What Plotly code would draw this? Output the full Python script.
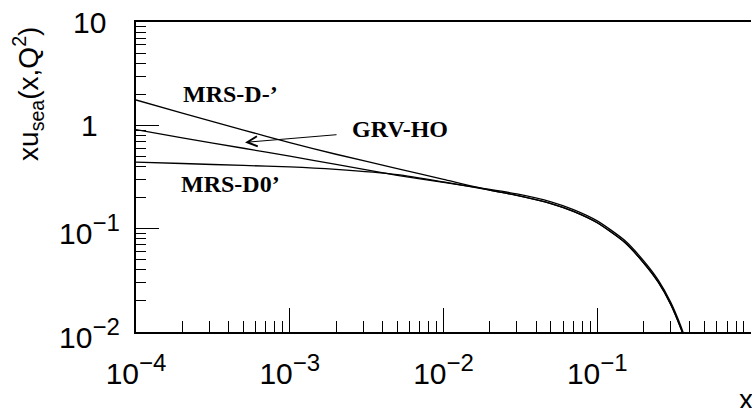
import math
import plotly.graph_objects as go

# x values at which the sea-quark distributions are tabulated
x_vals = [1e-4, 2e-4, 5e-4, 1e-3, 2e-3, 5e-3, 1e-2, 2e-2, 3e-2, 5e-2, 7e-2,
          0.1, 0.15, 0.2, 0.25, 0.3, 0.35, 0.37]

# x * u_sea(x, Q^2) for the three parametrisations
mrs_dminus = [1.76, 1.31, 0.90, 0.68, 0.525, 0.382, 0.300, 0.236, 0.210, 0.175, 0.147,
              0.114, 0.0742, 0.0468, 0.0302, 0.0186, 0.0108, 0.0085]
grv_ho = [0.91, 0.755, 0.60, 0.503, 0.418, 0.328, 0.280, 0.240, 0.217, 0.182, 0.153,
          0.119, 0.0775, 0.0490, 0.0316, 0.0195, 0.0114, 0.0090]
mrs_d0 = [0.44, 0.427, 0.409, 0.396, 0.374, 0.333, 0.283, 0.236, 0.210, 0.175, 0.147,
          0.114, 0.0742, 0.0468, 0.0302, 0.0186, 0.0108, 0.0085]

EXP = '<sup><span style="font-size:24px">{}</span></sup>'
x_tick_vals = [1e-4, 1e-3, 1e-2, 1e-1, 1]
x_tick_text = ["10" + EXP.format("\u22124"), "10" + EXP.format("\u22123"),
               "10" + EXP.format("\u22122"), "10" + EXP.format("\u22121"), "1"]
y_tick_vals = [1e-2, 1e-1, 1, 10]
y_tick_text = ["10" + EXP.format("\u22122"), "10" + EXP.format("\u22121"), "1", "10"]

curve_names = ["MRS-D-\u2019", "GRV-HO", "MRS-D0\u2019"]

SANS = "Liberation Sans, Arial, sans-serif"
SERIF = "Liberation Serif, Times New Roman, serif"

fig = go.Figure()
for name, vals in zip(curve_names, [mrs_dminus, grv_ho, mrs_d0]):
    fig.add_trace(go.Scatter(x=x_vals, y=vals, mode="lines", name=name,
                             line=dict(color="black", width=1.3, shape="spline",
                                       smoothing=0.6)))

minor_x = [m * 10.0 ** e for e in range(-4, 0) for m in range(2, 10)]
minor_y = [m * 10.0 ** e for e in range(-2, 1) for m in range(2, 10)]

fig.update_layout(
    width=752, height=408,
    margin=dict(l=136, r=1, t=22, b=76),
    paper_bgcolor="white", plot_bgcolor="white",
    showlegend=False,
    font=dict(family=SANS, color="black", size=30),
    xaxis=dict(type="log", range=[-4, 0], showgrid=False, zeroline=False,
               showline=True, linecolor="black", linewidth=1.6, mirror=True,
               ticks="inside", ticklen=24, tickwidth=1.2, tickcolor="black",
               tickvals=x_tick_vals, ticktext=x_tick_text,
               tickfont=dict(family=SANS, size=30, color="black"),
               ticklabelstandoff=14,
               minor=dict(ticks="inside", ticklen=11, tickwidth=1.1,
                          tickcolor="black", tickvals=minor_x, showgrid=False),
               automargin=False),
    yaxis=dict(type="log", range=[-2, 1], showgrid=False, zeroline=False,
               showline=True, linecolor="black", linewidth=1.6,
               ticks="inside", ticklen=23, tickwidth=1.2, tickcolor="black",
               tickvals=y_tick_vals, showticklabels=False,
               minor=dict(ticks="inside", ticklen=10, tickwidth=1.1,
                          tickcolor="black", tickvals=minor_y, showgrid=False),
               automargin=False),
)

# y tick labels, centred in the left margin
for v, t in zip(y_tick_vals, y_tick_text):
    fig.add_annotation(x=-0.075, xref="paper", y=math.log10(v), yref="y",
                       text=t, showarrow=False, xanchor="center", yanchor="middle",
                       yshift=(-1 if "sup" in t else 0),
                       font=dict(family=SANS, size=30, color="black"))

# axis titles
fig.add_annotation(x=-0.1756, y=0.768, xref="paper", yref="paper",
                   text="xu<sub>sea</sub>(x,Q<sup>2</sup>)", textangle=-90,
                   showarrow=False, xanchor="center", yanchor="middle",
                   font=dict(family=SANS, size=28, color="black"))
fig.add_annotation(x=0.992, y=-0.219, xref="paper", yref="paper",
                   text="x", showarrow=False, xanchor="center", yanchor="middle",
                   font=dict(family=SANS, size=28, color="black"))

# curve labels
label_font = dict(family=SERIF, size=24, color="black")
fig.add_annotation(x=0.153, y=0.769, xref="paper", yref="paper",
                   text="<b>" + curve_names[0] + "</b>", showarrow=False,
                   xanchor="center", yanchor="middle", font=label_font)
fig.add_annotation(x=0.153, y=0.479, xref="paper", yref="paper",
                   text="<b>" + curve_names[2] + "</b>", showarrow=False,
                   xanchor="center", yanchor="middle", font=label_font)
fig.add_annotation(x=-3.291, y=-0.165, xref="x", yref="y",
                   text="<b>" + curve_names[1] + "</b>", showarrow=True,
                   ax=155, ay=-13, arrowhead=5, arrowsize=2, arrowwidth=1,
                   arrowcolor="black", startstandoff=14,
                   font=label_font)

fig.write_html("out.html")
